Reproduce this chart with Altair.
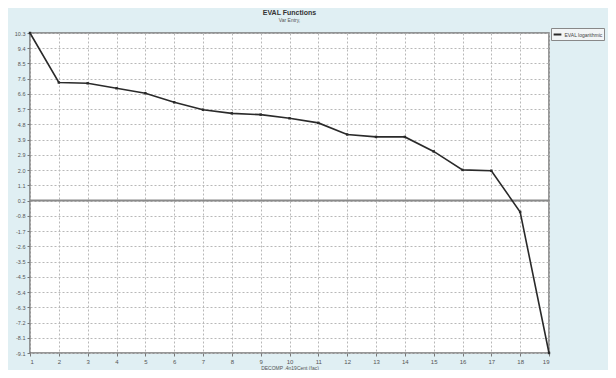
import altair as alt
import pandas as pd
import numpy as np

x_vals = list(range(1, 20))
y_vals = [10.3, 7.3, 7.25, 6.95, 6.65, 6.1, 5.65, 5.43, 5.35, 5.13, 4.85,
          4.15, 4.0, 4.0, 3.12, 2.0, 1.95, -0.55, -9.1]
series_name = "EVAL logarithmic"

y_tick_labels = ["10.3", "9.4", "8.5", "7.6", "6.6", "5.7", "4.8", "3.9", "2.9",
                 "2.0", "1.1", "0.2", "-0.8", "-1.7", "-2.6", "-3.5", "-4.5",
                 "-5.4", "-6.3", "-7.2", "-8.1", "-9.1"]
y_top, y_bottom = 10.3, -9.1
zero_line_label_index = 11

y_step = (y_top - y_bottom) / (len(y_tick_labels) - 1)
y_tick_values = [round(y_top - i * y_step, 6) for i in range(len(y_tick_labels))]
ref_value = y_tick_values[zero_line_label_index]

df = pd.DataFrame({"x": x_vals, "y": y_vals, "series": [series_name] * len(x_vals)})
ref_df = pd.DataFrame({"y": [ref_value]})

label_js = "[" + ",".join("'" + s + "'" for s in y_tick_labels) + "]"
label_expr = f"{label_js}[round(({y_top} - datum.value) / {y_step})]"

x_scale = alt.Scale(domain=[1, 19], nice=False, zero=False)
y_scale = alt.Scale(domain=[y_bottom, y_top], nice=False, zero=False)

x_axis = alt.Axis(values=x_vals, tickCount=len(x_vals), format="d",
                  title="DECOMP .4n19Cent (fac)",
                  titleFontSize=5, titleFontWeight="normal", titleColor="#555555",
                  titlePadding=1, labelFontSize=6, labelColor="#555555",
                  tickSize=3, tickColor="#777777", domain=False,
                  labelPadding=2, grid=True, labelOverlap=False, labelBound=False)
y_axis = alt.Axis(values=y_tick_values, tickCount=len(y_tick_values),
                  labelExpr=label_expr, title=None,
                  labelFontSize=5.5, labelColor="#555555", tickSize=3,
                  tickColor="#777777", domain=False, labelPadding=2, grid=True,
                  labelOverlap=False, labelBound=False)

rule = alt.Chart(ref_df).mark_rule(color="#8a8a8a", strokeWidth=2).encode(
    y=alt.Y("y:Q", scale=y_scale, axis=y_axis)
)

line = alt.Chart(df).mark_line(
    strokeWidth=1.6,
    point=alt.OverlayMarkDef(shape="square", size=6, filled=True, color="#222222"),
).encode(
    x=alt.X("x:Q", scale=x_scale, axis=x_axis),
    y=alt.Y("y:Q", scale=y_scale, axis=y_axis),
    color=alt.Color("series:N",
                    scale=alt.Scale(domain=[series_name], range=["#2a2a2a"]),
                    legend=alt.Legend(title=None, orient="none", legendX=521, legendY=-5,
                                      labelFontSize=5, labelColor="#444444",
                                      symbolType="stroke", symbolSize=60,
                                      symbolStrokeWidth=2, strokeColor="#888888",
                                      fillColor="#f2f5f6", padding=1.5, labelLimit=80,
                                      labelOffset=2)),
)

chart = alt.layer(rule, line).properties(
    width=519,
    height=320,
    autosize=alt.AutoSizeParams(type="none"),
    padding={"left": 22, "top": 25, "right": 59, "bottom": 17},
    background="#e0eff3",
    title=alt.TitleParams("EVAL Functions", subtitle="Var Entry,", fontSize=7,
                          fontWeight="bold", color="#333333", subtitleFontSize=5,
                          subtitleColor="#555555", subtitlePadding=2, anchor="middle",
                          frame="group", offset=5, font="Liberation Sans",
                          subtitleFont="Liberation Sans"),
).configure_view(
    fill="white", stroke="#777777", strokeWidth=1.5
).configure_axis(
    gridColor="#b8b8b8", gridDash=[2, 2], gridWidth=1,
    labelFont="Liberation Sans", titleFont="Liberation Sans"
).configure_legend(
    labelFont="Liberation Sans"
)

chart.save("out.html", embed_options={"renderer": "svg", "actions": False})
